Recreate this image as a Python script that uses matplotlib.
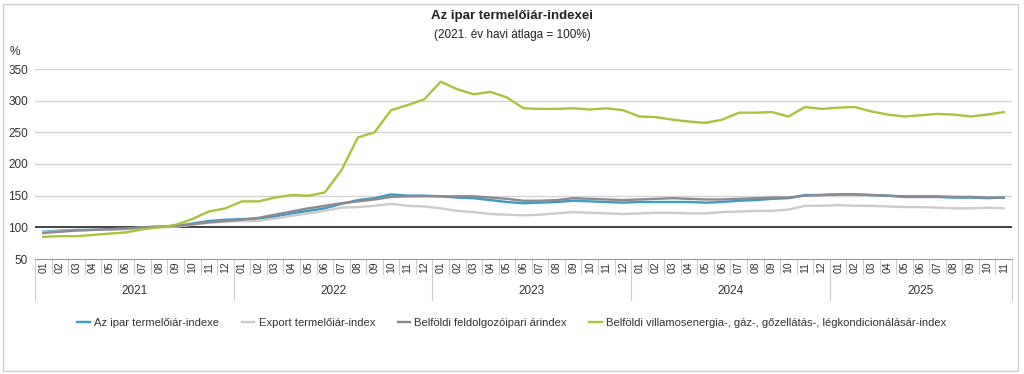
import numpy as np
import matplotlib
matplotlib.use("Agg")
import matplotlib.pyplot as plt
from matplotlib.patches import Rectangle
from matplotlib.transforms import blended_transform_factory

plt.rcParams['font.family'] = ['Liberation Sans', 'DejaVu Sans']

# data: 2021-01 .. 2025-11, 2021 monthly average = 100
years = ['2021', '2022', '2023', '2024', '2025']
months = ['01', '02', '03', '04', '05', '06', '07', '08', '09', '10', '11', '12']
month_labels = months * 4 + months[:11]

ipar = [93, 95, 96, 96, 97, 98, 100, 101, 102, 106, 110, 112,
        113, 114, 117, 122, 126, 130, 137, 143, 146, 152, 150, 150,
        149, 147, 146, 143, 140, 138, 139, 140, 142, 141, 140, 139,
        140, 140, 140, 140, 139, 140, 142, 143, 145, 146, 151, 151,
        152, 152, 151, 150, 148, 148, 148, 147, 147, 146, 147]
export = [92, 94, 95, 96, 96, 97, 99, 100, 101, 104, 107, 109,
          110, 110, 114, 118, 122, 126, 131, 132, 134, 137, 134, 133,
          130, 126, 124, 121, 120, 119, 120, 122, 124, 123, 122, 121,
          122, 123, 123, 122, 122, 124, 125, 126, 126, 128, 134, 134,
          135, 134, 134, 133, 132, 132, 131, 130, 130, 131, 130]
feldolg = [91, 93, 95, 96, 97, 98, 100, 101, 102, 105, 108, 110,
           112, 115, 120, 125, 130, 134, 138, 141, 144, 148, 149, 149,
           149, 149, 149, 147, 145, 142, 142, 143, 146, 145, 144, 143,
           144, 145, 146, 145, 144, 144, 145, 146, 147, 147, 150, 151,
           152, 152, 151, 150, 149, 149, 149, 148, 148, 147, 147]
villamos = [85, 86, 86, 88, 90, 92, 97, 100, 104, 113, 125, 130,
            141, 141, 147, 151, 150, 155, 190, 242, 250, 285, 293, 302,
            330, 318, 310, 314, 305, 288, 287, 287, 288, 286, 288, 285,
            275, 274, 270, 267, 265, 270, 281, 281, 282, 275, 290, 287,
            289, 290, 283, 278, 275, 277, 279, 278, 275, 278, 282]

series_names = ['Az ipar termelőiár-indexe', 'Export termelőiár-index',
                'Belföldi feldolgozóipari árindex',
                'Belföldi villamosenergia-, gáz-, gőzellátás-, légkondicionálásár-index']
colors = ['#3b9cc4', '#cbcbcb', '#8b8992', '#a6c43c']

fig = plt.figure(figsize=(10.24, 3.74), dpi=100)
ax = fig.add_axes([35 / 1024, 1 - 259 / 374, (1012 - 35) / 1024, 190 / 374])

x = np.arange(len(ipar))
for vals, name, c in zip([ipar, export, feldolg, villamos], series_names, colors):
    ax.plot(x, vals, color=c, lw=1.7, label=name, solid_joinstyle='round')

ax.set_xlim(-0.5, len(ipar) - 0.5)
ax.set_ylim(50, 350)
ax.set_yticks(range(50, 351, 50))
for v in range(150, 351, 50):
    ax.axhline(v, color='#d4d4d4', lw=1, zorder=0)
ax.axhline(100, color='#222222', lw=1.2, zorder=1)

for s in ['top', 'right', 'left']:
    ax.spines[s].set_visible(False)
ax.spines['bottom'].set_color('#999999')
ax.tick_params(axis='y', length=0, pad=5, labelsize=8.5, colors='#333333')
ax.set_xticks([])

# category axis: months and years
tr = blended_transform_factory(ax.transData, ax.transAxes)
for i, m in enumerate(month_labels):
    ax.text(i, -0.045, m, rotation=90, ha='center', va='center', fontsize=7.5,
            color='#333333', transform=tr)
    if i > 0 and i % 12 != 0:
        ax.plot([i - 0.5, i - 0.5], [0, -0.08], color='#cccccc', lw=0.8,
                transform=tr, clip_on=False)
n = len(ipar)
for k, y in enumerate(years):
    start = k * 12 - 0.5
    end = min(k * 12 + 11.5, n - 0.5)
    ax.text((start + end) / 2, -0.168, y, ha='center', va='center', fontsize=8.5,
            color='#333333', transform=tr)
    ax.plot([start, start], [0, -0.216], color='#cccccc', lw=0.8, transform=tr, clip_on=False)
ax.plot([n - 0.5, n - 0.5], [0, -0.216], color='#cccccc', lw=0.8, transform=tr, clip_on=False)

fig.text(0.5, 0.958, 'Az ipar termelőiár-indexei', ha='center', va='center',
         fontsize=9.5, fontweight='bold', color='#222222')
fig.text(0.5, 0.906, '(2021. év havi átlaga = 100%)', ha='center', va='center',
         fontsize=8.5, color='#222222')
fig.text(10 / 1024, 1 - 52 / 374, '%', ha='left', va='center', fontsize=8.5, color='#333333')

fig.legend(loc='center', bbox_to_anchor=(512 / 1024, 1 - 323 / 374), ncol=4, frameon=False,
           fontsize=8.1, handlelength=1.1, columnspacing=2.0, handletextpad=0.4,
           labelcolor='#333333')

fig.patches.append(Rectangle((3 / 1024, 3 / 374), 1015 / 1024, 367 / 374,
                             transform=fig.transFigure, fill=False,
                             edgecolor='#cfcfcf', lw=1))

fig.savefig('out.png', dpi=100)
